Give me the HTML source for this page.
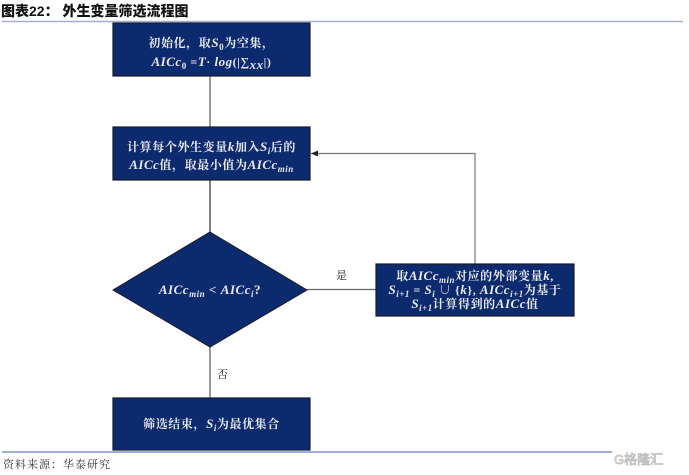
<!DOCTYPE html>
<html><head><meta charset="utf-8">
<style>
html,body{margin:0;padding:0;background:#fff;}
body{width:689px;height:475px;position:relative;overflow:hidden;font-family:"Liberation Serif","Noto Serif CJK SC",serif;}
.t{position:absolute;color:#e9e9ee;font-weight:bold;font-size:12px;line-height:14px;white-space:nowrap;text-align:center;letter-spacing:0.6px;font-family:"Liberation Serif","Noto Serif CJK SC",serif;}
i{font-style:italic;font-family:"Liberation Serif",serif;font-weight:bold;font-size:13px;letter-spacing:0.5px;}
sub{font-size:9px;vertical-align:-3px;line-height:0;}
.title{position:absolute;left:1px;top:1px;font-size:14px;font-weight:900;font-family:"Liberation Sans","Noto Sans CJK SC",sans-serif;color:#111;letter-spacing:0px;}
.lbl{position:absolute;font-size:11px;color:#222;font-family:"Liberation Serif","Noto Serif CJK SC",serif;}
.src{position:absolute;left:3px;top:456px;font-size:11px;color:#333;font-family:"Liberation Serif","Noto Serif CJK SC",serif;letter-spacing:1px;}
.wm{position:absolute;left:614px;top:449px;font-size:13px;color:#fff;font-family:"Liberation Sans","Noto Sans CJK SC",sans-serif;-webkit-text-stroke:0.8px #bbb;}
</style></head><body>
<div class="title">图表22：&nbsp;外生变量筛选流程图</div>
<svg width="689" height="475" style="position:absolute;left:0;top:0">
 <defs>
  <marker id="ar" markerWidth="8" markerHeight="8" refX="7" refY="4" orient="auto" markerUnits="userSpaceOnUse">
   <path d="M0,1 L7,4 L0,7 Z" fill="#222"/>
  </marker>
 </defs>
 <line x1="2" y1="21.5" x2="683" y2="21.5" stroke="#9fb2cf" stroke-width="1.5"/>
 <line x1="2" y1="452" x2="612" y2="452" stroke="#5d7fb7" stroke-width="1.2"/>
 <line x1="210" y1="76" x2="210" y2="127" stroke="#777" stroke-width="1.5"/>
 <line x1="210" y1="180" x2="210" y2="232" stroke="#555" stroke-width="1.5"/>
 <line x1="210" y1="347" x2="210" y2="398" stroke="#777" stroke-width="1.5"/>
 <line x1="307" y1="289.5" x2="376" y2="289.5" stroke="#666" stroke-width="1.2"/>
 <polyline points="475,264 475,153.5 311,153.5" fill="none" stroke="#777" stroke-width="1.2" marker-end="url(#ar)"/>
 <rect x="113" y="23" width="197" height="53" fill="#0c2a6e" stroke="#1b1b2a" stroke-width="1.2"/>
 <rect x="113" y="127" width="197" height="53" fill="#0c2a6e" stroke="#1b1b2a" stroke-width="1.2"/>
 <polygon points="210,232 307,290 210,347 113,290" fill="#0c2a6e" stroke="#1b1b2a" stroke-width="1"/>
 <rect x="376" y="264" width="198" height="52" fill="#0c2a6e" stroke="#1b1b2a" stroke-width="1.2"/>
 <rect x="113" y="398" width="197" height="52" fill="#0c2a6e" stroke="#1b1b2a" stroke-width="1.2"/>
</svg>
<div class="t" style="left:113px;width:197px;top:36px;">初始化，取<i>S</i><sub>0</sub>为空集，</div>
<div class="t" style="left:113px;width:197px;top:55px;"><i>AICc</i><sub>0</sub> =<i>T</i>· <i>log</i>(|∑<sub><i>xx</i></sub>|)</div>
<div class="t" style="left:113px;width:197px;top:140px;">计算每个外生变量<i>k</i>加入<i>S<sub>i</sub></i>后的</div>
<div class="t" style="left:113px;width:197px;top:158px;"><i>AICc</i>值，取最小值为<i>AICc<sub>min</sub></i></div>
<div class="t" style="left:113px;width:194px;top:283px;font-size:13px;"><i>AICc<sub>min</sub></i> &lt; <i>AICc<sub>i</sub></i>?</div>
<div class="t" style="left:376px;width:198px;top:269px;">取<i>AICc<sub>min</sub></i>对应的外部变量<i>k</i>,</div>
<div class="t" style="left:376px;width:198px;top:283px;"><i>S<sub>i+1</sub></i> = <i>S<sub>i</sub></i> ∪ {<i>k</i>}, <i>AICc<sub>i+1</sub></i>为基于</div>
<div class="t" style="left:376px;width:198px;top:297px;"><i>S<sub>i+1</sub></i>计算得到的<i>AICc</i>值</div>
<div class="t" style="left:113px;width:197px;top:417px;">筛选结束，<i>S<sub>i</sub></i>为最优集合</div>
<div class="lbl" style="left:336px;top:267px;">是</div>
<div class="lbl" style="left:217px;top:366px;">否</div>
<div class="src">资料来源：华泰研究</div>
<div class="wm">G格隆汇</div>
</body></html>
